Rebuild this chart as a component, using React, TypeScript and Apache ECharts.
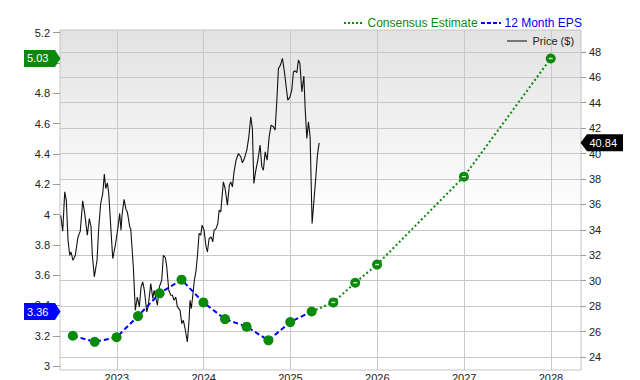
import React, { useEffect, useRef } from "react";
import * as echarts from "echarts";

const yearTicks = [2023, 2024, 2025, 2026, 2027, 2028];
const epsTicks = [3, 3.2, 3.4, 3.6, 3.8, 4, 4.2, 4.4, 4.6, 4.8, 5, 5.2];
const priceTicks = [24, 26, 28, 30, 32, 34, 36, 38, 40, 42, 44, 46, 48];

const epsDates = ["2022-06-30", "2022-09-30", "2022-12-31", "2023-03-31", "2023-06-30", "2023-09-30", "2023-12-31", "2024-03-31", "2024-06-30", "2024-09-30", "2024-12-31", "2025-03-31"];
const epsValues = [3.2, 3.16, 3.19, 3.33, 3.48, 3.57, 3.42, 3.31, 3.26, 3.17, 3.29, 3.36];

const estDates = ["2025-03-31", "2025-06-30", "2025-09-30", "2025-12-31", "2026-12-31", "2027-12-31"];
const estValues = [3.36, 3.42, 3.55, 3.67, 4.25, 5.03];

const priceYears = [2022.354, 2022.377, 2022.400, 2022.418, 2022.438, 2022.457, 2022.472, 2022.495, 2022.522, 2022.553, 2022.579, 2022.607, 2022.630, 2022.660, 2022.683, 2022.703, 2022.718, 2022.741, 2022.772, 2022.791, 2022.814, 2022.838, 2022.856, 2022.872, 2022.891, 2022.907, 2022.930, 2022.953, 2022.983, 2023.014, 2023.033, 2023.048, 2023.060, 2023.083, 2023.106, 2023.121, 2023.149, 2023.160, 2023.190, 2023.213, 2023.236, 2023.259, 2023.279, 2023.298, 2023.317, 2023.345, 2023.363, 2023.391, 2023.414, 2023.429, 2023.467, 2023.490, 2023.517, 2023.536, 2023.559, 2023.575, 2023.598, 2023.621, 2023.640, 2023.659, 2023.679, 2023.697, 2023.728, 2023.748, 2023.766, 2023.786, 2023.812, 2023.832, 2023.843, 2023.858, 2023.875, 2023.893, 2023.913, 2023.932, 2023.947, 2023.967, 2023.982, 2024.005, 2024.028, 2024.043, 2024.063, 2024.086, 2024.105, 2024.120, 2024.143, 2024.163, 2024.178, 2024.197, 2024.227, 2024.247, 2024.273, 2024.296, 2024.312, 2024.331, 2024.350, 2024.373, 2024.400, 2024.428, 2024.446, 2024.469, 2024.497, 2024.520, 2024.543, 2024.561, 2024.578, 2024.601, 2024.624, 2024.650, 2024.670, 2024.688, 2024.708, 2024.731, 2024.754, 2024.777, 2024.803, 2024.823, 2024.843, 2024.861, 2024.884, 2024.907, 2024.930, 2024.950, 2024.969, 2024.992, 2025.015, 2025.034, 2025.053, 2025.073, 2025.091, 2025.108, 2025.131, 2025.154, 2025.169, 2025.188, 2025.207, 2025.226, 2025.249, 2025.272, 2025.292, 2025.310, 2025.330];
const priceValues = [35.15, 33.9, 36.99, 36.33, 33.18, 32.0, 32.26, 31.6, 32.0, 33.44, 33.9, 36.28, 35.29, 33.58, 34.89, 34.23, 32.0, 30.3, 31.61, 34.1, 36.07, 36.86, 38.38, 37.25, 37.69, 36.86, 34.23, 31.74, 32.79, 34.23, 35.29, 33.97, 35.15, 36.39, 35.6, 35.41, 34.23, 34.1, 31.08, 27.68, 28.72, 27.94, 29.51, 29.9, 29.25, 27.54, 28.07, 29.78, 28.6, 29.25, 28.07, 29.51, 30.04, 32.0, 31.82, 31.08, 29.25, 28.86, 28.86, 28.46, 28.72, 27.94, 27.68, 26.63, 26.89, 26.24, 25.18, 26.89, 28.46, 27.81, 28.86, 30.04, 30.82, 32.26, 33.71, 33.58, 34.37, 33.97, 32.66, 32.26, 33.32, 33.44, 33.05, 33.97, 34.1, 34.5, 35.54, 35.41, 37.77, 37.25, 35.94, 37.51, 37.77, 37.38, 38.56, 39.48, 40.0, 39.74, 39.27, 39.61, 40.27, 41.31, 42.89, 41.97, 37.65, 38.69, 39.48, 40.66, 38.95, 38.69, 40.13, 39.48, 41.31, 42.23, 42.1, 41.84, 44.2, 46.69, 46.95, 47.48, 46.43, 45.25, 44.2, 44.41, 44.99, 46.43, 46.5, 46.35, 47.35, 47.09, 44.85, 46.09, 43.55, 41.19, 42.49, 41.31, 34.5, 36.47, 38.17, 39.87, 40.84];

const FONT = "'Liberation Sans', Arial, Helvetica, sans-serif";
const GREEN = "#0a8a0a";
const BLUE = "#0000ff";

function toYear(d: string): number {
  const [y, m, day] = d.split("-").map(Number);
  const start = Date.UTC(y, 0, 1);
  const end = Date.UTC(y + 1, 0, 1);
  return y + (Date.UTC(y, m - 1, day) - start) / (end - start);
}

export default function App() {
  const ref = useRef<HTMLDivElement>(null);

  useEffect(() => {
    if (!ref.current) return;
    const chart = echarts.init(ref.current, undefined, { renderer: "svg" });

    const priceData = priceYears.map((x, i) => [x, priceValues[i]]);
    const epsData = epsDates.map((d, i) => [toYear(d), epsValues[i]]);
    const estData = estDates.map((d, i) => [toYear(d), estValues[i]]);

    const option: any = {
      animation: false,
      textStyle: { fontFamily: FONT },
      grid: {
        left: 60,
        right: 59,
        top: 30,
        bottom: 10,
        show: true,
        borderColor: "#c4c4c4",
        borderWidth: 1,
        backgroundColor: new echarts.graphic.LinearGradient(0, 0, 0, 1, [
          { offset: 0, color: "#e2e2e2" },
          { offset: 0.55, color: "#ffffff" },
          { offset: 1, color: "#ffffff" },
        ]),
        containLabel: false,
        outerBoundsMode: "none",
      },
      xAxis: {
        type: "value",
        min: 2022.3455,
        max: 2028.3457,
        axisLine: { show: false },
        axisTick: { show: false, customValues: yearTicks },
        axisLabel: {
          customValues: yearTicks,
          formatter: (v: number) => String(v),
          color: "#222",
          fontSize: 11,
          fontFamily: FONT,
          margin: 2,
        },
        splitLine: { show: true, lineStyle: { color: "#c8c8c8", width: 1 } },
      },
      yAxis: [
        {
          type: "value",
          position: "left",
          min: 2.974,
          max: 5.218,
          axisLine: { show: false },
          axisTick: { show: true, length: 7, customValues: epsTicks, lineStyle: { color: "#999" } },
          axisLabel: {
            customValues: epsTicks,
            formatter: (v: number) => String(Math.round(v * 10) / 10),
            color: "#222",
            fontSize: 11,
            fontFamily: FONT,
            margin: 10,
          },
          splitLine: { show: false },
        },
        {
          type: "value",
          position: "right",
          min: 22.98,
          max: 49.71,
          axisLine: { show: false },
          axisTick: { show: true, length: 5, customValues: priceTicks, lineStyle: { color: "#999" } },
          axisLabel: {
            customValues: priceTicks,
            formatter: (v: number) => String(v),
            color: "#222",
            fontSize: 11,
            fontFamily: FONT,
            margin: 8,
          },
          splitLine: { show: true, lineStyle: { color: "#c8c8c8", width: 1 } },
        },
      ],
      series: [
        {
          name: "Price ($)",
          type: "line",
          yAxisIndex: 1,
          data: priceData,
          showSymbol: false,
          symbol: "none",
          lineStyle: { color: "#111", width: 1.1 },
          z: 2,
        },
        {
          name: "Consensus Estimate",
          type: "line",
          yAxisIndex: 0,
          data: estData,
          symbol: "circle",
          symbolSize: (_v: any, p: any) => (p.dataIndex === 0 ? 0 : 10),
          itemStyle: { color: GREEN },
          lineStyle: { color: GREEN, width: 2, type: [2, 2.5] },
          z: 3,
        },
        {
          name: "12 Month EPS",
          type: "line",
          yAxisIndex: 0,
          data: epsData,
          symbol: "circle",
          symbolSize: 10,
          itemStyle: { color: GREEN },
          lineStyle: { color: BLUE, width: 2, type: [5, 3] },
          z: 4,
        },
        {
          name: "estMark",
          type: "scatter",
          yAxisIndex: 0,
          data: estData.slice(1),
          symbol: "rect",
          symbolSize: [4, 1.4],
          itemStyle: { color: "#ffffff" },
          silent: true,
          z: 5,
        },
      ],
      graphic: [
        { type: "line", shape: { x1: 344, y1: 23, x2: 362, y2: 23 }, style: { stroke: GREEN, lineWidth: 2, lineDash: [2, 2] }, z: 10 },
        { type: "text", x: 367.5, y: 23, style: { text: "Consensus Estimate", fill: GREEN, font: `12px ${FONT}`, verticalAlign: "middle", align: "left" }, z: 10 },
        { type: "line", shape: { x1: 481, y1: 23, x2: 501, y2: 23 }, style: { stroke: BLUE, lineWidth: 2, lineDash: [4, 2] }, z: 10 },
        { type: "text", x: 504.5, y: 23, style: { text: "12 Month EPS", fill: BLUE, font: `12px ${FONT}`, verticalAlign: "middle", align: "left" }, z: 10 },
        { type: "line", shape: { x1: 507, y1: 41, x2: 527, y2: 41 }, style: { stroke: "#777", lineWidth: 2 }, z: 10 },
        { type: "text", x: 532.5, y: 41, style: { text: "Price ($)", fill: "#222", font: `11px ${FONT}`, verticalAlign: "middle", align: "left" }, z: 10 },
      ],
    };

    chart.setOption(option);

    const lastEst = estValues[estValues.length - 1];
    const lastEps = epsValues[epsValues.length - 1];
    const lastPrice = priceValues[priceValues.length - 1];
    const yEst = chart.convertToPixel({ yAxisIndex: 0 } as any, lastEst) as unknown as number;
    const yEps = chart.convertToPixel({ yAxisIndex: 0 } as any, lastEps) as unknown as number;
    const yPrice = chart.convertToPixel({ yAxisIndex: 1 } as any, lastPrice) as unknown as number;

    const leftTag = (y: number, color: string, label: string) => [
      {
        type: "polygon",
        shape: { points: [[24, y - 8.5], [55, y - 8.5], [60.5, y], [55, y + 8.5], [24, y + 8.5]] },
        style: { fill: color },
        z: 20,
      },
      {
        type: "text",
        x: 27,
        y: y,
        style: { text: label, fill: "#fff", font: `11px ${FONT}`, verticalAlign: "middle", align: "left" },
        z: 21,
      },
    ];

    chart.setOption({
      graphic: [
        ...option.graphic,
        ...leftTag(yEst, GREEN, lastEst.toFixed(2)),
        ...leftTag(yEps, BLUE, lastEps.toFixed(2)),
        {
          type: "polygon",
          shape: { points: [[580.5, yPrice], [587, yPrice - 8.5], [623, yPrice - 8.5], [623, yPrice + 8.5], [587, yPrice + 8.5]] },
          style: { fill: "#000" },
          z: 20,
        },
        {
          type: "text",
          x: 589.5,
          y: yPrice,
          style: { text: lastPrice.toFixed(2), fill: "#fff", font: `11px ${FONT}`, verticalAlign: "middle", align: "left" },
          z: 21,
        },
      ],
    });

    return () => {
      chart.dispose();
    };
  }, []);

  return (
    <div
      ref={ref}
      style={{ position: "absolute", left: 0, top: 0, width: 640, height: 380 }}
    />
  );
}
